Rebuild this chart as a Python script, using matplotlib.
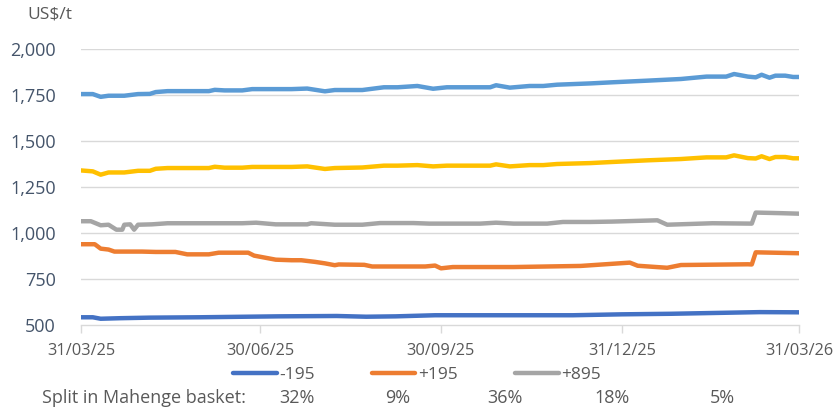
import matplotlib
matplotlib.use("Agg")
import matplotlib.pyplot as plt
import matplotlib.dates as mdates
import numpy as np
import pandas as pd

plt.rcParams["font.family"] = ["Open Sans", "DejaVu Sans"]

START = pd.Timestamp("2025-03-31")

# Days after 31/03/25 and prices (US$/t) for each grade
days_top = [0, 6, 10, 14, 22, 29, 35, 38, 44, 65, 68, 73, 82, 87, 107, 115, 124, 129,
            143, 154, 161, 171, 179, 186, 208, 211, 218, 228, 235, 242, 259, 270, 288,
            305, 318, 328, 332, 339, 343, 346, 350, 353, 358, 362, 365]
light_blue = [1755, 1755, 1740, 1746, 1746, 1755, 1756, 1766, 1771, 1771, 1778, 1775,
              1775, 1782, 1782, 1785, 1770, 1777, 1777, 1792, 1792, 1799, 1784, 1792,
              1792, 1803, 1790, 1799, 1799, 1806, 1813, 1819, 1828, 1837, 1850, 1850,
              1864, 1850, 1846, 1860, 1844, 1855, 1855, 1848, 1848]
yellow = [1340, 1335, 1317, 1329, 1329, 1338, 1338, 1349, 1353, 1353, 1360, 1355,
          1355, 1359, 1359, 1362, 1348, 1353, 1356, 1366, 1366, 1369, 1362, 1366,
          1366, 1373, 1362, 1369, 1369, 1375, 1380, 1386, 1395, 1402, 1411, 1411,
          1422, 1407, 1405, 1417, 1402, 1413, 1413, 1406, 1406]

days_gray = [0, 5, 10, 14, 18, 21, 22, 25, 27, 29, 36, 44, 82, 89, 99, 115, 117, 129,
             143, 152, 169, 177, 203, 211, 220, 237, 245, 259, 270, 293, 298, 321, 341,
             343, 355, 365]
p895 = [1064, 1064, 1042, 1045, 1018, 1018, 1045, 1047, 1018, 1045, 1047, 1053, 1053,
        1056, 1047, 1047, 1053, 1045, 1045, 1054, 1054, 1051, 1051, 1056, 1051, 1051,
        1060, 1060, 1062, 1069, 1045, 1053, 1051, 1111, 1108, 1105]

days_orange = [0, 7, 10, 14, 17, 31, 38, 48, 54, 65, 70, 85, 88, 99, 107, 112, 119, 124,
               129, 131, 144, 148, 175, 180, 183, 189, 220, 254, 279, 283, 298, 305,
               339, 341, 343, 365]
p195 = [939, 939, 915, 910, 899, 899, 897, 897, 884, 884, 893, 893, 877, 855, 852, 852,
        843, 835, 825, 829, 827, 818, 818, 823, 808, 815, 815, 821, 839, 822, 811, 826,
        830, 829, 895, 890]

days_dark = [0, 6, 10, 20, 35, 60, 100, 130, 145, 160, 180, 250, 275, 300, 320, 345, 365]
m195 = [542, 542, 534, 537, 540, 542, 547, 549, 545, 547, 553, 553, 558, 561, 565, 570, 569]

tick_dates = ["2025-03-31", "2025-06-30", "2025-09-30", "2025-12-31", "2026-03-31"]
yticks = [500, 750, 1000, 1250, 1500, 1750, 2000]
basket_split = ["32%", "9%", "36%", "18%", "5%"]


def to_dates(d):
    return START + pd.to_timedelta(d, unit="D")


fig = plt.figure(figsize=(8.33, 4.09), dpi=100)
ax = fig.add_axes([81 / 833, 1 - 325 / 409, 718 / 833, 276 / 409])

lw = 3.2
ax.plot(to_dates(days_top), light_blue, color="#5B9BD5", lw=lw, solid_capstyle="round")
ax.plot(to_dates(days_top), yellow, color="#FFC000", lw=lw, solid_capstyle="round")
l3, = ax.plot(to_dates(days_gray), p895, color="#A5A5A5", lw=lw, solid_capstyle="round", label="+895")
l2, = ax.plot(to_dates(days_orange), p195, color="#ED7D31", lw=lw, solid_capstyle="round", label="+195")
l1, = ax.plot(to_dates(days_dark), m195, color="#4472C4", lw=lw, solid_capstyle="round", label="-195")

ax.set_xlim(START, pd.Timestamp("2026-03-31"))
ax.set_ylim(500, 2000)
ax.set_yticks(yticks)
ax.yaxis.set_major_formatter(matplotlib.ticker.FuncFormatter(lambda v, p: f"{int(v):,}"))
ax.set_xticks(pd.to_datetime(tick_dates))
ax.xaxis.set_major_formatter(mdates.DateFormatter("%d/%m/%y"))

grid_c = "#D9D9D9"
for v in yticks[1:]:
    ax.axhline(v, color=grid_c, lw=1.0, zorder=0)
for s in ["top", "right", "left"]:
    ax.spines[s].set_visible(False)
ax.spines["bottom"].set_color(grid_c)
ax.spines["bottom"].set_linewidth(1.0)
ax.spines["bottom"].set_zorder(0)

ax.tick_params(axis="y", length=0, pad=18, labelsize=13, labelcolor="#44546A")
ax.tick_params(axis="x", length=6, width=1.0, color=grid_c, pad=7, labelsize=11.8,
               labelcolor="#595959")
for lab in ax.get_xticklabels():
    lab.set_clip_on(False)

fig.text(72 / 833, 1 - 14 / 409, "US$/t", ha="right", va="center", fontsize=12.5, color="#595959")

fig.legend(handles=[l1, l2, l3], loc="center", bbox_to_anchor=(417 / 833, 1 - 375 / 409),
           ncol=3, frameon=False, fontsize=12.5, handlelength=2.5, handletextpad=0.15,
           columnspacing=3.3, labelcolor="#595959")

fig.text(42 / 833, 1 - 398 / 409, "Split in Mahenge basket:", ha="left", va="center",
         fontsize=13, color="#595959")
for xc, s in zip([297, 398, 505, 612, 722], basket_split):
    fig.text(xc / 833, 1 - 398 / 409, s, ha="center", va="center", fontsize=13, color="#595959")

fig.savefig("out.png", dpi=100)
